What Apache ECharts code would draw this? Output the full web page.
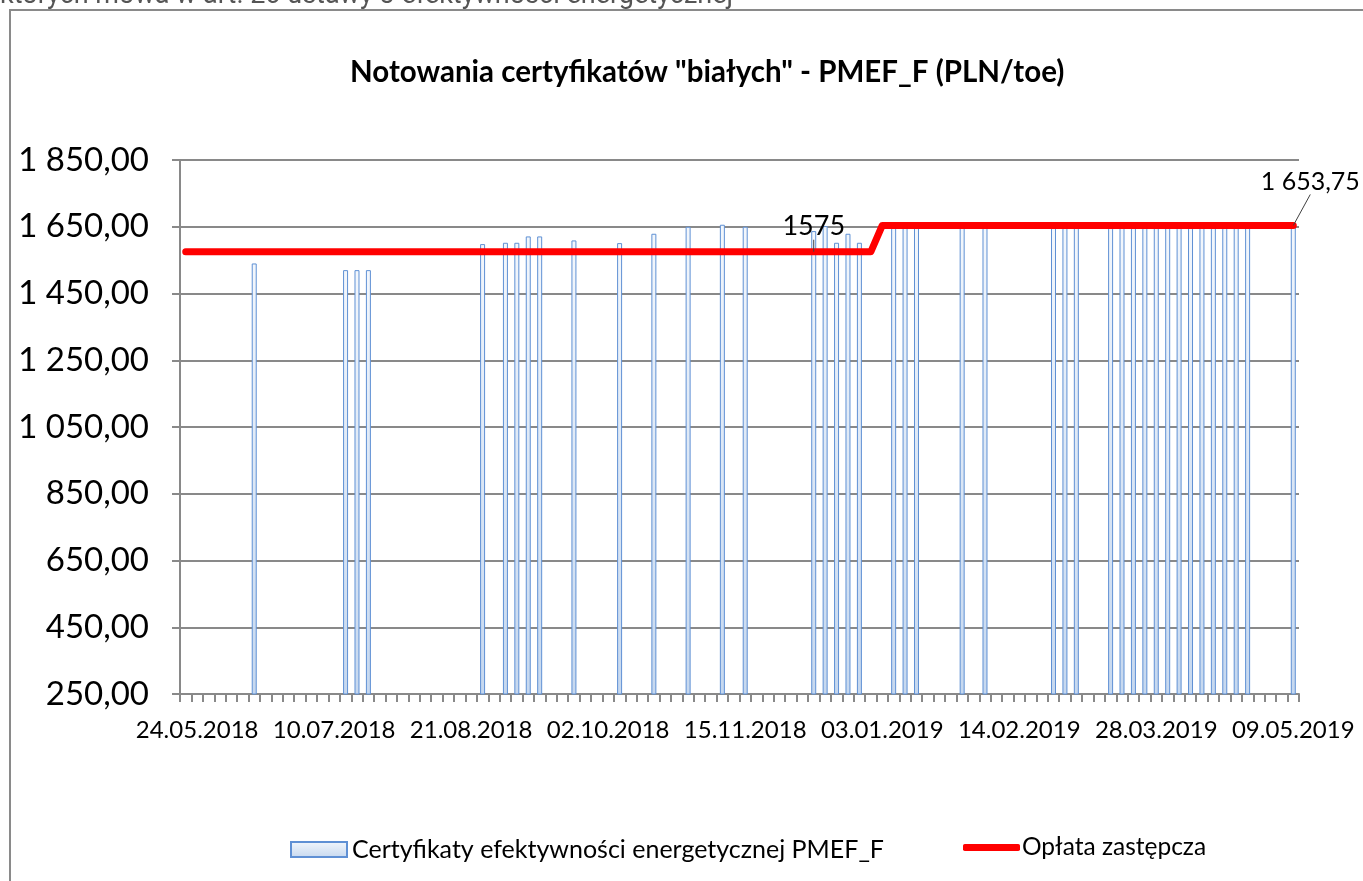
<!DOCTYPE html>
<html>
<head>
<meta charset="utf-8">
<title>Notowania PMEF_F</title>
<script src="https://cdn.jsdelivr.net/npm/echarts@6/dist/echarts.min.js"></script>
<style>
  html, body { margin: 0; padding: 0; background: #fff; }
  #main { width: 1363px; height: 881px; }
</style>
</head>
<body>
<div id="main"></div>
<script>
// sesje PMEF_F odbywają się we wtorki i czwartki
const firstSession = '2018-05-22';
const lastSession = '2019-05-09';
const sessionWeekdays = [2, 4];
const noSessionDays = ['2018-05-31', '2018-11-01', '2018-12-25', '2019-01-01'];

// notowania certyfikatów (PLN/toe)
const barDates = [
  '14.06.2018', '12.07.2018', '17.07.2018', '19.07.2018',
  '23.08.2018', '30.08.2018', '04.09.2018', '06.09.2018', '11.09.2018', '20.09.2018',
  '04.10.2018', '16.10.2018', '25.10.2018', '08.11.2018', '15.11.2018',
  '06.12.2018', '11.12.2018', '13.12.2018', '18.12.2018', '20.12.2018',
  '08.01.2019', '10.01.2019', '15.01.2019', '29.01.2019', '05.02.2019',
  '26.02.2019', '28.02.2019', '05.03.2019',
  '14.03.2019', '19.03.2019', '21.03.2019', '26.03.2019', '28.03.2019',
  '02.04.2019', '04.04.2019', '09.04.2019', '11.04.2019', '16.04.2019',
  '18.04.2019', '23.04.2019', '25.04.2019', '09.05.2019'
];
const barValues = [
  1540, 1520, 1520, 1520,
  1598, 1602, 1602, 1621, 1621, 1609,
  1601, 1629, 1650, 1656, 1650,
  1637, 1652, 1602, 1629, 1602,
  1650, 1650, 1650, 1650, 1650,
  1650, 1650, 1650,
  1650, 1650, 1650, 1650, 1650,
  1650, 1650, 1650, 1650, 1650,
  1650, 1650, 1650, 1650
];

// opłata zastępcza - obowiązuje od podanej daty
const feeFromDates = ['22.05.2018', '03.01.2019'];
const feeValues = [1575, 1653.75];

const yMin = 250, yMax = 1850, yStep = 200;

const FONT = 'Lato, "Noto Sans", sans-serif';
const GRAY = '#898989';
const BAR_NAME = 'Certyfikaty efektywności energetycznej PMEF_F';
const LINE_NAME = 'Opłata zastępcza';

function fmtDate(d) {
  const p = n => (n < 10 ? '0' : '') + n;
  return p(d.getUTCDate()) + '.' + p(d.getUTCMonth() + 1) + '.' + d.getUTCFullYear();
}
function toTime(s) {
  const a = s.split('.');
  return Date.UTC(+a[2], +a[1] - 1, +a[0]);
}
function fmtNum(v) {
  const parts = v.toFixed(2).split('.');
  return parts[0].replace(/\B(?=(\d{3})+(?!\d))/g, ' ') + ',' + parts[1];
}

// lista sesji (kategorie osi X)
const categories = [];
for (let t = Date.parse(firstSession); t <= Date.parse(lastSession); t += 86400000) {
  const d = new Date(t);
  const iso = d.toISOString().slice(0, 10);
  if (sessionWeekdays.indexOf(d.getUTCDay()) >= 0 && noSessionDays.indexOf(iso) < 0) {
    categories.push(fmtDate(d));
  }
}

const barData = categories.map(c => {
  const i = barDates.indexOf(c);
  return i >= 0 ? barValues[i] : '-';
});

// etykiety danych na linii opłaty
const labelAt = {
  '06.12.2018': { show: true, formatter: '1575', fontSize: 27, distance: 12, offset: [-4, 0] },
  '09.05.2019': { show: true, formatter: fmtNum(feeValues[1]), fontSize: 25, distance: 4 }
};
const feeData = categories.map(c => {
  let v = feeValues[0];
  feeFromDates.forEach((f, k) => { if (toTime(c) >= toTime(f)) v = feeValues[k]; });
  return labelAt[c] ? { value: v, label: labelAt[c] } : v;
});

const myChart = echarts.init(document.getElementById('main'));
const option = {
  backgroundColor: '#fff',
  animation: false,
  title: {
    text: 'Notowania certyfikatów "białych" - PMEF_F (PLN/toe)',
    left: 345,
    top: 52,
    textStyle: { fontFamily: FONT, fontSize: 29.5, fontWeight: 'bold', color: '#000' }
  },
  graphic: [
    {
      type: 'rect', silent: true,
      shape: { x: 10, y: 10, width: 1400, height: 900 },
      style: { fill: 'none', stroke: '#8a8a8a', lineWidth: 2 }
    },
    {
      type: 'text', left: 0, top: -17, silent: true,
      style: { text: 'których mowa w art. 20 ustawy o efektywności energetycznej',
               fontFamily: 'Roboto, sans-serif', fontSize: 27, fill: '#555' }
    }
  ],
  legend: [
    {
      left: 285,
      bottom: 14,
      itemWidth: 56,
      itemHeight: 15,
      itemGap: 4,
      textStyle: { fontFamily: FONT, fontSize: 25, color: '#000' },
      data: [{ name: BAR_NAME, icon: 'rect' }]
    },
    {
      left: 958,
      bottom: 16,
      itemWidth: 57,
      itemHeight: 7,
      textStyle: { fontFamily: FONT, fontSize: 24.5, color: '#000', padding: [0, 0, 0, -3] },
      data: [{ name: LINE_NAME, icon: 'roundRect', itemStyle: { color: '#ff0000' } }]
    }
  ],
  grid: { left: 180, right: 64, top: 160, bottom: 187, containLabel: false },
  xAxis: {
    type: 'category',
    data: categories,
    boundaryGap: true,
    axisLine: { lineStyle: { color: GRAY, width: 2 } },
    axisTick: { show: true, interval: 0, length: 8, lineStyle: { color: GRAY, width: 2 } },
    axisLabel: {
      interval: i => (i - 1) % 12 === 0,
      fontFamily: FONT, fontSize: 24, color: '#000', margin: 24
    },
    splitLine: { show: false }
  },
  yAxis: {
    type: 'value',
    min: yMin, max: yMax, interval: yStep,
    axisLine: { show: true, lineStyle: { color: GRAY, width: 2 } },
    axisTick: { show: true, length: 8, lineStyle: { color: GRAY, width: 2 } },
    axisLabel: { formatter: fmtNum, fontFamily: FONT, fontSize: 33, color: '#000', margin: 31 },
    splitLine: { lineStyle: { color: GRAY, width: 2 } }
  },
  series: [
    {
      name: BAR_NAME,
      type: 'bar',
      data: barData,
      barWidth: 5,
      itemStyle: {
        color: new echarts.graphic.LinearGradient(0, 0, 0, 1, [
          { offset: 0, color: '#f3f7fc' },
          { offset: 1, color: '#c6d8ef' }
        ]),
        borderColor: '#5f90d4',
        borderWidth: 1
      }
    },
    {
      name: LINE_NAME,
      type: 'line',
      data: feeData,
      symbol: 'circle',
      symbolSize: 0.1,
      showAllSymbol: true,
      z: 3,
      itemStyle: { color: '#ff0000' },
      lineStyle: { color: '#ff0000', width: 7, cap: 'round', join: 'round' },
      label: {
        show: false, position: 'top',
        fontFamily: FONT, color: '#000'
      },
      labelLayout: p => (p.dataIndex === categories.length - 1 ? { dx: 17, dy: -27 } : {}),
      labelLine: { show: true, lineStyle: { color: '#404040', width: 1 } }
    }
  ]
};
myChart.setOption(option);
</script>
</body>
</html>
